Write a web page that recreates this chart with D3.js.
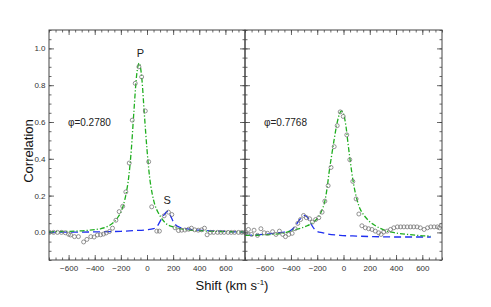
<!DOCTYPE html>
<html lang="en">
<head>
<meta charset="utf-8">
<title>Cross-correlation</title>
<script src="https://cdn.jsdelivr.net/npm/d3@7"></script>
<style>
  body { margin: 0; background: #fff; }
  text { font-family: "Liberation Sans", Arial, sans-serif; }
</style>
</head>
<body>
<script>
// Data: [shift (km/s), correlation]
var leftPoints = [
  [-745,0.0],[-715,0.0],[-685,0.0],[-655,0.0],[-625,-0.002],[-600,-0.01],[-585,-0.014],
  [-555,-0.023],[-525,-0.023],[-485,-0.052],[-460,-0.038],[-430,-0.023],[-405,-0.025],
  [-380,-0.014],[-355,-0.013],[-333,-0.009],[-312,-0.003],[-287,0.005],[-264,0.023],
  [-238,0.066],[-213,0.113],[-186,0.142],[-162,0.22],[-136,0.377],[-113,0.61],[-90,0.81],
  [-62,0.90],[-41,0.845],[-13,0.66],[13,0.384],[36,0.139],[75,0.007],[95,0.007],
  [131,0.09],[164,0.11],[190,0.097],[215,0.025],[241,0.01],[265,0.012],[290,0.013],
  [318,0.017],[340,0.023],[365,0.014],[392,0.012],[418,0.014],[440,0.023],[460,-0.013],
  [485,0.0],[510,0.0],[540,0.0],[565,0.0],[590,0.0],[620,0.0],[645,0.0],[670,0.0],
  [700,0.0],[725,0.0],[748,0.0]
];
var leftPrimary = [
  [-750,0.003],[-650,0.005],[-550,0.007],[-450,0.011],[-400,0.015],[-350,0.021],
  [-300,0.033],[-250,0.058],[-220,0.085],[-200,0.11],[-180,0.15],[-160,0.21],
  [-140,0.30],[-120,0.45],[-100,0.66],[-80,0.85],[-60,0.92],[-40,0.84],[-20,0.64],
  [0,0.45],[20,0.30],[40,0.21],[60,0.15],[80,0.115],[100,0.09],[140,0.052],
  [200,0.03],[250,0.02],[300,0.014],[400,0.009],[500,0.006],[600,0.004],[750,0.003]
];
var leftSecondary = [
  [-750,0.002],[-500,0.002],[-300,0.004],[-200,0.006],[-100,0.01],[0,0.014],[50,0.02],
  [80,0.035],[100,0.06],[130,0.095],[160,0.115],[180,0.09],[200,0.06],[220,0.04],
  [250,0.028],[300,0.02],[400,0.012],[500,0.008],[600,0.005],[750,0.002]
];
var rightPoints = [
  [-745,-0.002],[-724,0.016],[-700,-0.011],[-681,0.012],[-655,-0.016],[-629,0.02],
  [-604,-0.002],[-578,-0.005],[-540,0.004],[-514,-0.011],[-488,0.007],[-463,-0.011],
  [-442,-0.023],[-417,-0.011],[-391,-0.005],[-368,0.02],[-348,0.049],[-327,0.07],
  [-304,0.092],[-283,0.08],[-258,0.074],[-237,0.056],[-212,0.07],[-188,0.08],
  [-163,0.11],[-142,0.17],[-117,0.254],[-95,0.353],[-71,0.466],[-48,0.58],[-25,0.655],
  [-2,0.63],[25,0.53],[48,0.395],[71,0.277],[96,0.182],[117,0.10],[140,0.036],
  [166,0.025],[191,0.02],[217,0.016],[242,0.007],[268,-0.002],[286,-0.011],[306,0.002],
  [332,0.007],[358,0.016],[383,0.025],[410,0.03],[435,0.03],[460,0.03],[485,0.03],
  [510,0.03],[535,0.03],[560,0.03],[585,0.025],[614,0.016],[640,0.025],[665,0.03],
  [690,0.03],[715,0.03],[730,0.025],[745,0.038]
];
var rightPrimary = [
  [-750,-0.016],[-700,-0.016],[-600,-0.013],[-540,-0.011],[-450,-0.003],[-385,0.012],
  [-330,0.022],[-283,0.034],[-240,0.05],[-212,0.066],[-190,0.085],[-168,0.115],
  [-142,0.17],[-125,0.24],[-109,0.33],[-90,0.42],[-70,0.51],[-50,0.59],[-30,0.645],
  [-15,0.66],[0,0.645],[20,0.57],[35,0.48],[50,0.395],[75,0.27],[102,0.18],[125,0.13],
  [152,0.097],[190,0.065],[229,0.043],[280,0.022],[332,0.007],[400,-0.003],
  [486,-0.011],[580,-0.017],[665,-0.02]
];
var rightSecondary = [
  [-750,-0.016],[-600,-0.01],[-500,-0.002],[-450,0.002],[-410,0.007],[-372,0.03],
  [-333,0.07],[-300,0.092],[-272,0.08],[-245,0.043],[-205,0.007],[-156,-0.002],
  [-130,-0.007],[-27,-0.016],[100,-0.02],[229,-0.023],[400,-0.025],[550,-0.025],
  [665,-0.025]
];
var xTicks = [-600, -400, -200, 0, 200, 400, 600];
var yTicks = [0.0, 0.2, 0.4, 0.6, 0.8, 1.0];
var phaseLabels = ["\u03c6=0.2780", "\u03c6=0.7768"];

var w = 491, h = 307;
var plotTop = 30, plotBottom = 260;
var svg = d3.select("body").append("svg").attr("width", w).attr("height", h);

var yScale = d3.scaleLinear().domain([-0.15, 1.1]).range([plotBottom, plotTop]);

var panels = [
  { x0: 49, x1: 245, points: leftPoints, prim: leftPrimary, sec: leftSecondary, phase: phaseLabels[0], yLabels: true },
  { x0: 245, x1: 442, points: rightPoints, prim: rightPrimary, sec: rightSecondary, phase: phaseLabels[1], yLabels: false }
];

var xMinor = d3.range(-750, 751, 50);
var yMinor = d3.range(-0.15, 1.1001, 0.05).map(function(d) { return +d.toFixed(2); });

panels.forEach(function(p, i) {
  var xScale = d3.scaleLinear().domain([-750, 750]).range([p.x0, p.x1]);
  var g = svg.append("g");

  svg.append("clipPath").attr("id", "clip" + i)
    .append("rect").attr("x", p.x0).attr("y", plotTop)
    .attr("width", p.x1 - p.x0).attr("height", plotBottom - plotTop);

  function styleAxis(sel) {
    sel.select(".domain").remove();
    sel.selectAll("line").attr("stroke", "#444").attr("stroke-width", 0.8);
    sel.selectAll("text").attr("fill", "#333").style("font-size", "8px");
  }

  // bottom axis with labels
  g.append("g").attr("transform", "translate(0," + plotBottom + ")")
    .call(d3.axisBottom(xScale).tickValues(xTicks).tickSize(-5).tickPadding(5)
      .tickFormat(d3.format("d")))
    .call(styleAxis);
  g.append("g").attr("transform", "translate(0," + plotBottom + ")")
    .call(d3.axisBottom(xScale).tickValues(xMinor).tickSize(-2.5).tickFormat(""))
    .call(styleAxis);
  // top axis
  g.append("g").attr("transform", "translate(0," + plotTop + ")")
    .call(d3.axisTop(xScale).tickValues(xTicks).tickSize(-5).tickFormat(""))
    .call(styleAxis);
  g.append("g").attr("transform", "translate(0," + plotTop + ")")
    .call(d3.axisTop(xScale).tickValues(xMinor).tickSize(-2.5).tickFormat(""))
    .call(styleAxis);
  // left axis
  g.append("g").attr("transform", "translate(" + p.x0 + ",0)")
    .call(d3.axisLeft(yScale).tickValues(yTicks).tickSize(-5).tickPadding(3.5)
      .tickFormat(p.yLabels ? d3.format(".1f") : ""))
    .call(styleAxis);
  g.append("g").attr("transform", "translate(" + p.x0 + ",0)")
    .call(d3.axisLeft(yScale).tickValues(yMinor).tickSize(-2.5).tickFormat(""))
    .call(styleAxis);
  // right axis
  g.append("g").attr("transform", "translate(" + p.x1 + ",0)")
    .call(d3.axisRight(yScale).tickValues(yTicks).tickSize(-5).tickFormat(""))
    .call(styleAxis);
  g.append("g").attr("transform", "translate(" + p.x1 + ",0)")
    .call(d3.axisRight(yScale).tickValues(yMinor).tickSize(-2.5).tickFormat(""))
    .call(styleAxis);

  var line = d3.line()
    .x(function(d) { return xScale(d[0]); })
    .y(function(d) { return yScale(d[1]); })
    .curve(d3.curveMonotoneX);

  var plot = g.append("g").attr("clip-path", "url(#clip" + i + ")");

  plot.append("path").datum(p.sec)
    .attr("d", line).attr("fill", "none")
    .attr("stroke", "#1f2ff0").attr("stroke-width", 1.3)
    .attr("stroke-dasharray", "7,4");

  plot.append("path").datum(p.prim)
    .attr("d", line).attr("fill", "none")
    .attr("stroke", "#1fae1f").attr("stroke-width", 1.3)
    .attr("stroke-dasharray", "5,2,1.2,2");

  plot.selectAll("circle").data(p.points).enter().append("circle")
    .attr("cx", function(d) { return xScale(d[0]); })
    .attr("cy", function(d) { return yScale(d[1]); })
    .attr("r", 2)
    .attr("fill", "none")
    .attr("stroke", "#777")
    .attr("stroke-width", 0.8);

  // frame
  g.append("rect").attr("x", p.x0).attr("y", plotTop)
    .attr("width", p.x1 - p.x0).attr("height", plotBottom - plotTop)
    .attr("fill", "none").attr("stroke", "#444").attr("stroke-width", 1);

  g.append("text").attr("x", xScale(-605)).attr("y", yScale(0.6) + 3.5)
    .attr("fill", "#222").style("font-size", "10px").text(p.phase);

  if (i === 0) {
    g.append("text").attr("x", xScale(-50)).attr("y", yScale(0.955))
      .attr("text-anchor", "middle").attr("fill", "#222")
      .style("font-size", "11px").text("P");
    g.append("text").attr("x", xScale(155)).attr("y", yScale(0.155))
      .attr("text-anchor", "middle").attr("fill", "#222")
      .style("font-size", "11px").text("S");
  }
});

// axis titles
svg.append("text")
  .attr("transform", "translate(33,151) rotate(-90)")
  .attr("text-anchor", "middle").attr("fill", "#111")
  .style("font-size", "13px").text("Correlation");

var title = svg.append("text").attr("x", 232).attr("y", 290)
  .attr("text-anchor", "middle").attr("fill", "#111").style("font-size", "13px");
title.append("tspan").text("Shift (km s");
title.append("tspan").attr("dy", -5).style("font-size", "8px").text("-1");
title.append("tspan").attr("dy", 5).text(")");
</script>
</body>
</html>
